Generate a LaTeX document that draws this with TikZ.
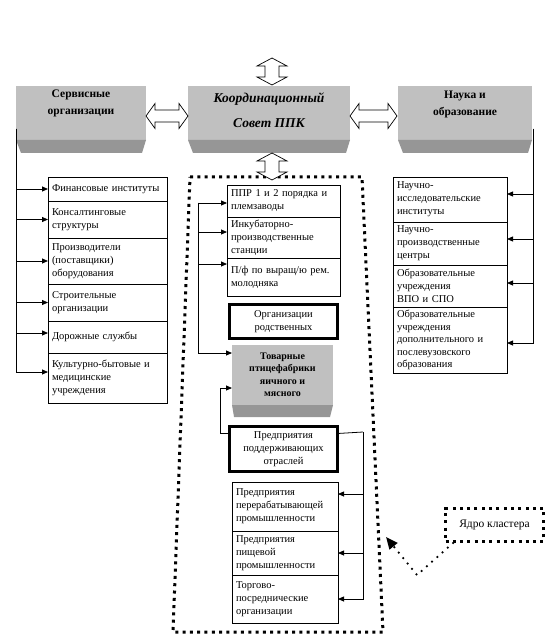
\documentclass[tikz,border=0pt]{standalone}
\usepackage{fontspec}
\setmainfont{Liberation Serif}
\usetikzlibrary{calc,arrows.meta}
\definecolor{faceGray}{RGB}{192,192,192}
\definecolor{bevelGray}{RGB}{150,150,150}
\tikzset{
  plainbox/.style   = {draw, line width=0.8pt, anchor=north west, inner xsep=4pt,
                       inner ysep=1pt, outer sep=0pt, align=left,
                       font=\fontsize{10.5}{13}\selectfont},
  thickbox/.style   = {draw, line width=3pt, inner sep=1pt, outer sep=0pt,
                       align=center, font=\fontsize{10.5}{13}\selectfont},
  grayface/.style   = {fill=faceGray, inner sep=0pt, outer sep=0pt},
  graybevel/.style  = {fill=bevelGray},
  graytitle/.style  = {font=\bfseries\fontsize{11.5}{17}\selectfont, align=center},
  blockarrow/.style = {draw, fill=white, line width=0.7pt},
  link/.style       = {draw, line width=0.8pt},
  linkarr/.style    = {link, -{Triangle[length=6pt,width=5pt]}},
  cluster/.style    = {draw, line width=3pt, dash pattern=on 3pt off 4.3pt},
  pointer/.style    = {draw, line width=2.5pt, line cap=round,
                       dash pattern=on 0pt off 7pt,
                       -{Triangle[length=12pt,width=10pt,fill=black]}},
}
\begin{document}
\begin{tikzpicture}[x=1pt, y=-1pt]
  \useasboundingbox (0,0) rectangle (554,644);

  % ──────────────────────────────────────────────
  %  GRAY TITLE BLOCKS
  % ──────────────────────────────────────────────
  \node[grayface, minimum width=130pt, minimum height=54pt] (servf)  at (81,113)  {};
  \node[grayface, minimum width=162pt, minimum height=54pt] (koordf) at (269,113) {};
  \node[grayface, minimum width=134pt, minimum height=54pt] (naukaf) at (465,113) {};

  % bevels under the faces
  \fill[graybevel] (servf.south west) -- (servf.south east) -- ++(-4,13)
    -- ($(servf.south west)+(5,13)$) -- cycle;
  \fill[graybevel] (koordf.south west) -- (koordf.south east) -- ++(-4,13)
    -- ($(koordf.south west)+(5,13)$) -- cycle;
  \fill[graybevel] (naukaf.south west) -- (naukaf.south east) -- ++(-4,13)
    -- ($(naukaf.south west)+(5,13)$) -- cycle;

  % titles
  \node[graytitle] (servt) at ([yshift=10pt]servf.center) {Сервисные\\организации};
  \node[graytitle, font=\bfseries\itshape\fontsize{13.5}{25}\selectfont]
    (koordt) at ([yshift=3pt]koordf.center) {Координационный\\Совет ППК};
  \node[graytitle] (naukat) at ([yshift=9pt]naukaf.center) {Наука и\\образование};

  % ── block arrows (double, hollow) ──
  % left
  \draw[blockarrow] (146,116) -- (155,103.5) -- (155,110) -- (179,110) -- (179,103.5)
    -- (188,116) -- (179,128.5) -- (179,122) -- (155,122) -- (155,128.5) -- cycle;
  % right
  \draw[blockarrow] (350,116) -- (359,103.5) -- (359,110) -- (388,110) -- (388,103.5)
    -- (397,116) -- (388,128.5) -- (388,122) -- (359,122) -- (359,128.5) -- cycle;
  % top
  \draw[blockarrow] (272,58) -- (287,66) -- (279,66) -- (279,77) -- (287,77)
    -- (272,85) -- (257,77) -- (265,77) -- (265,66) -- (257,66) -- cycle;

  % ──────────────────────────────────────────────
  %  CLUSTER CORE (dotted outline)
  % ──────────────────────────────────────────────
  \draw[cluster] (190,177) -- (362,177) -- (383,632) -- (173,632) -- cycle;

  % bottom block arrow, over the outline
  \draw[blockarrow] (272,153) -- (287,161) -- (279,161) -- (279,172) -- (287,172)
    -- (272,180) -- (257,172) -- (265,172) -- (265,161) -- (257,161) -- cycle;

  % ──────────────────────────────────────────────
  %  LEFT COLUMN
  % ──────────────────────────────────────────────
  \node[plainbox, text width=111pt, minimum height=24pt] (fin)    at (48,177) {Финансовые институты};
  \node[plainbox, text width=111pt, minimum height=37pt] (kons)   at (48,201) {Консалтинговые\\структуры};
  \node[plainbox, text width=111pt, minimum height=46pt] (proizv) at (48,238) {Производители\\(поставщики)\\оборудования};
  \node[plainbox, text width=111pt, minimum height=37pt] (stroi)  at (48,284) {Строительные\\организации};
  \node[plainbox, text width=111pt, minimum height=32pt] (dor)    at (48,321) {Дорожные службы};
  \node[plainbox, text width=111pt, minimum height=50pt] (kult)   at (48,353) {Культурно-бытовые и\\медицинские\\учреждения};

  \coordinate (ltrunk) at (16,129);
  \draw[linkarr] (ltrunk) |- (fin.west);
  \draw[linkarr] (ltrunk) |- (kons.west);
  \draw[linkarr] (ltrunk) |- (proizv.west);
  \draw[linkarr] (ltrunk) |- (stroi.west);
  \draw[linkarr] (ltrunk) |- ([yshift=-12pt]dor.north west);
  \draw[linkarr] (ltrunk) |- ([yshift=-19pt]kult.north west);

  % ──────────────────────────────────────────────
  %  RIGHT COLUMN
  % ──────────────────────────────────────────────
  \node[plainbox, text width=106pt, minimum height=45pt] (nir) at (393,177) {Научно-\\исследовательские\\институты};
  \node[plainbox, text width=106pt, minimum height=43pt] (npc) at (393,222) {Научно-\\производственные\\центры};
  \node[plainbox, text width=106pt, minimum height=42pt] (vpo) at (393,265) {Образовательные\\учреждения\\ВПО и СПО};
  \node[plainbox, text width=106pt, minimum height=66pt,
        font=\fontsize{10.5}{12.5}\selectfont] (dpo) at (393,307)
    {Образовательные\\учреждения\\дополнительного и\\послевузовского\\образования};

  \coordinate (rtrunk) at (533,129);
  \draw[linkarr] (rtrunk) |- ([yshift=-17pt]nir.north east);
  \draw[linkarr] (rtrunk) |- ([yshift=-17pt]npc.north east);
  \draw[linkarr] (rtrunk) |- ([yshift=-18pt]vpo.north east);
  \draw[linkarr] (rtrunk) |- ([yshift=-36pt]dpo.north east);

  % ──────────────────────────────────────────────
  %  CENTRE COLUMN (inside the core)
  % ──────────────────────────────────────────────
  \node[plainbox, text width=105pt, minimum height=32pt] (ppr)   at (227,185) {ППР 1 и 2 порядка и\\племзаводы};
  \node[plainbox, text width=105pt, minimum height=41pt] (inkub) at (227,217) {Инкубаторно-\\производственные\\станции};
  \node[plainbox, text width=105pt, minimum height=38pt] (pf)    at (227,258) {П/ф по выращ/ю рем.\\молодняка};

  \node[thickbox, minimum width=108pt, minimum height=34pt] (rodst) at (283.5,321.5) {Организации\\родственных};

  % poultry farms block
  \node[grayface, minimum width=101pt, minimum height=60pt] (tovf) at (282.5,375) {};
  \fill[graybevel] (tovf.south west) -- (tovf.south east) -- ++(-3,12)
    -- ($(tovf.south west)+(2,12)$) -- cycle;
  \node[graytitle, font=\bfseries\fontsize{10}{12.5}\selectfont] (tovt) at (tovf.center)
    {Товарные\\птицефабрики\\яичного и\\мясного};

  \node[thickbox, minimum width=108pt, minimum height=45pt] (podd) at (283.5,449) {Предприятия\\поддерживающих\\отраслей};

  \node[plainbox, text width=98pt, minimum height=49pt] (per)  at (232,482) {Предприятия\\перерабатывающей\\промышленности};
  \node[plainbox, text width=98pt, minimum height=44pt] (pish) at (232,531) {Предприятия\\пищевой\\промышленности};
  \node[plainbox, text width=98pt, minimum height=48pt] (torg) at (232,575) {Торгово-\\посреднические\\организации};

  % links inside the core
  \coordinate (ctrunk) at (198,203);
  \draw[linkarr] (ctrunk) -- ([yshift=-18pt]ppr.north west);
  \draw[linkarr] (ctrunk) |- ([yshift=-15pt]inkub.north west);
  \draw[linkarr] (ctrunk) |- ([yshift=-6pt]pf.north west);
  \draw[linkarr] (ctrunk) |- ([yshift=-8pt]tovf.north west);
  \draw[linkarr] ([yshift=-7pt]podd.north west) -- ++(-9,0) |- ([yshift=-43pt]tovf.north west);

  \coordinate (strunk) at (363,432);
  \draw[link] ([yshift=-7pt]podd.north east) -- (strunk);
  \draw[linkarr] (strunk) |- ([yshift=-12pt]per.north east);
  \draw[linkarr] (strunk) |- (pish.east);
  \draw[linkarr] (strunk) |- (torg.east);

  % ──────────────────────────────────────────────
  %  CALLOUT
  % ──────────────────────────────────────────────
  \node[cluster, minimum width=98pt, minimum height=33pt, inner sep=1pt,
        font=\fontsize{11.5}{13}\selectfont] (yadro) at (494.5,525) {Ядро кластера};
  \coordinate (kink) at (417,575);
  \coordinate (clpt) at (386,537);
  \draw[pointer] ([xshift=9pt]yadro.south west) -- (kink) -- (clpt);

\end{tikzpicture}
\end{document}
